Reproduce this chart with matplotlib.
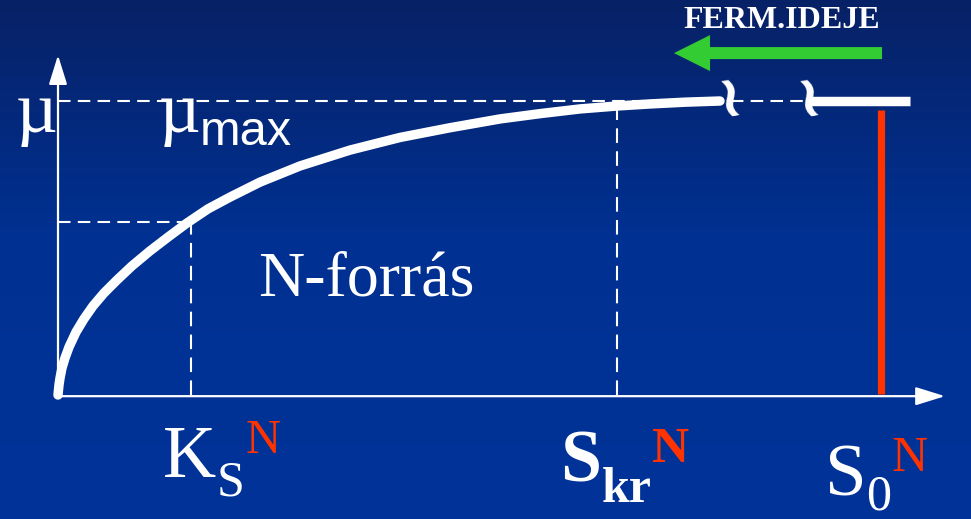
import numpy as np
import matplotlib
matplotlib.use("Agg")
import matplotlib.pyplot as plt
from matplotlib.patches import FancyArrow

# Monod-type curve (S in arbitrary units, mu / mu_max)
S_curve = [0.0, 0.011, 0.023, 0.045, 0.079, 0.124, 0.203, 0.293, 0.395,
           0.519, 0.665, 0.834, 1.037, 1.240, 1.454, 1.691, 1.939, 2.277,
           2.728, 3.292, 3.856, 4.419, 4.983, 5.434, 5.885, 6.302, 6.674,
           7.069, 7.463]
mu_curve = [0.0, 0.034, 0.058, 0.092, 0.126, 0.163, 0.214, 0.259, 0.303,
            0.347, 0.391, 0.439, 0.490, 0.537, 0.585, 0.633, 0.673, 0.724,
            0.779, 0.833, 0.876, 0.909, 0.939, 0.957, 0.973, 0.983, 0.990,
            0.996, 1.0]

mu_max = 1.0
Ks = 1.5
mu_half = 0.588
S_kr = 6.30
S0 = 9.28
S_break = [7.54, 8.43]
S_tail = [8.455, 9.605]
S_axis_end = 10.0
mu_axis_end = 1.156

WHITE = "white"
RED = "#ff3300"
GREEN = "#33cc33"

W, H = 971, 519
fig = plt.figure(figsize=(W / 100, H / 100), dpi=100)
ax = fig.add_axes([0, 0, 1, 1])
px_x, px_y = 88.7, 294.0  # pixels per unit
x0, y0 = 58, 395          # origin in pixels
xlim = (-x0 / px_x, (W - x0) / px_x)
ylim = ((y0 - H) / px_y, y0 / px_y)
ax.set_xlim(*xlim)
ax.set_ylim(*ylim)
ax.axis("off")

# background gradient (row 0 = top of the slide)
grad = np.linspace(0, 1, 256)
top = np.array([0.03, 0.13, 0.40])
mid = np.array([0.0, 0.19, 0.57])
bot = np.array([0.0, 0.20, 0.60])
t = np.clip(grad / 0.45, 0, 1)[:, None]
cols = top * (1 - t) + mid * t
t2 = np.clip((grad - 0.45) / 0.55, 0, 1)[:, None]
cols = cols * (1 - t2) + bot * t2
ax.imshow(cols[:, None, :], extent=[xlim[0], xlim[1], ylim[0], ylim[1]],
          aspect="auto", origin="upper", zorder=0)

# axes with arrows
ax.annotate("", xy=(0, mu_axis_end), xytext=(0, -0.004),
            arrowprops=dict(arrowstyle="-|>,head_length=0.9,head_width=0.28",
                            color=WHITE, lw=1.6, mutation_scale=20, shrinkA=0, shrinkB=0),
            zorder=3)
ax.annotate("", xy=(S_axis_end, -0.004), xytext=(-0.01, -0.004),
            arrowprops=dict(arrowstyle="-|>,head_length=0.9,head_width=0.28",
                            color=WHITE, lw=1.6, mutation_scale=20, shrinkA=0, shrinkB=0),
            zorder=3)

# dashed guides
dash_h = (0, (6, 3.5))
dash_v = (0, (7, 4))
ax.plot([0, S_break[1]], [mu_max, mu_max], color=WHITE, lw=1.5, ls=dash_h, zorder=2)
ax.plot([0, Ks], [mu_half, mu_half], color=WHITE, lw=1.5, ls=dash_h, zorder=2)
ax.plot([Ks, Ks], [0, mu_half], color=WHITE, lw=1.5, ls=dash_v, zorder=2)
ax.plot([S_kr, S_kr], [0, 0.986], color=WHITE, lw=1.5, ls=dash_v, zorder=2)

# curve
ax.plot(S_curve, mu_curve, color=WHITE, lw=6.8, solid_capstyle="round",
        solid_joinstyle="round", zorder=4)
ax.plot(S_tail, [mu_max, mu_max], color=WHITE, lw=6.8, solid_capstyle="butt", zorder=4)
for sb in S_break:
    ax.text(sb, mu_max + 0.035, "~", color=WHITE, fontsize=42, fontweight="bold",
            rotation=100, ha="center", va="center", zorder=5)

# S0 red line
ax.plot([S0, S0], [0.005, 0.969], color=RED, lw=5.2, solid_capstyle="butt", zorder=4)

# green arrow (FERM.IDEJE)
ax.add_patch(FancyArrow(9.29, 1.163, 6.945 - 9.29, 0, width=12 / px_y,
                        head_width=36 / px_y, head_length=36 / px_x,
                        length_includes_head=True, color=GREEN, lw=0, zorder=4))


def txt(x, y, s, **kw):
    fig.text(x / W, 1 - y / H, s, va="baseline", ha="left", **kw)


serif = "Liberation Serif"
sans = "Liberation Sans"
txt(683, 28, "FERM.IDEJE", family=serif, fontweight="bold", fontsize=23, color=WHITE)
txt(16, 132, "\u00b5", family=serif, fontsize=52, color=WHITE)
txt(159, 132, "\u00b5", family=serif, fontsize=52, color=WHITE)
txt(200, 145, "max", family=sans, fontsize=35, color=WHITE)
txt(258, 295, "N-forrás", family=serif, fontsize=46, color=WHITE)

txt(163, 477, "K", family=serif, fontsize=53, color=WHITE)
txt(217, 495, "S", family=serif, fontsize=36, color=WHITE)
txt(246, 453, "N", family=serif, fontsize=35, color=RED)

txt(560, 482, "S", family=serif, fontsize=53, fontweight="bold", color=WHITE)
txt(602, 502, "kr", family=serif, fontsize=36, fontweight="bold", color=WHITE)
txt(652, 462, "N", family=serif, fontsize=37, fontweight="bold", color=RED)

txt(825, 495, "S", family=serif, fontsize=54, color=WHITE)
txt(866, 509, "0", family=serif, fontsize=36, color=WHITE)
txt(891, 471, "N", family=serif, fontsize=36, color=RED)

fig.savefig("out.png", dpi=100)
